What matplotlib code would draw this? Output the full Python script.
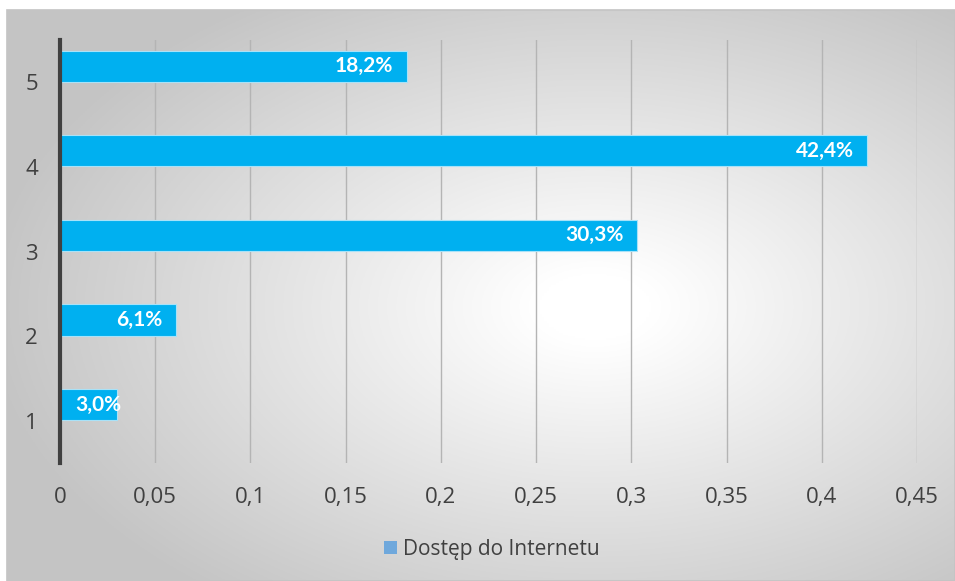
import numpy as np
import matplotlib.pyplot as plt
from matplotlib.patches import Rectangle

plt.rcParams['font.family'] = ['Open Sans', 'DejaVu Sans']

categories = ['1', '2', '3', '4', '5']
values = [0.030, 0.061, 0.303, 0.424, 0.182]
labels = ['3,0%', '6,1%', '30,3%', '42,4%', '18,2%']
xticks = [0, 0.05, 0.1, 0.15, 0.2, 0.25, 0.3, 0.35, 0.4, 0.45]
series_name = 'Dostęp do Internetu'

W, H = 955, 581
fig = plt.figure(figsize=(W / 100, H / 100), dpi=100)
fig.patch.set_facecolor('white')

# chart frame with radial gradient fill
bg = fig.add_axes([7 / W, 0, (W - 7) / W, (H - 10) / H], zorder=-5)
gx, gy = np.meshgrid(np.linspace(0, 1, 400), np.linspace(0, 1, 300))
d = np.sqrt(((gx - 0.62) / 0.75) ** 2 + ((gy - 0.52) / 0.75) ** 2)
shade = 1 - 0.23 * np.clip((d - 0.08) / 0.78, 0, 1)
bg.imshow(np.dstack([shade] * 3), extent=[0, 1, 0, 1], aspect='auto', origin='upper')
bg.set_xlim(0, 1)
bg.set_ylim(0, 1)
bg.axis('off')
fig.patches.append(Rectangle((7 / W, 0), (W - 7) / W, (H - 10) / H, transform=fig.transFigure,
                             fill=False, edgecolor='#c4c4c4', linewidth=1.2, zorder=10))

ax = fig.add_axes([60 / W, (H - 463) / H, (917 - 60) / W, 423 / H])
ax.patch.set_alpha(0)

y = np.arange(1, len(categories) + 1)
shift = 0.19  # bars sit above the category centre, like the original
ax.barh(y + shift, values, height=0.37, color='#00B0F0', edgecolor='#a8e2f8', linewidth=0.8,
        zorder=3, label=series_name)

ax.set_xlim(0, 0.45)
ax.set_ylim(0.5, 5.5)
ax.set_xticks(xticks)
ax.set_xticklabels([('%g' % t).replace('.', ',') for t in xticks])
ax.set_yticks(y)
ax.set_yticklabels(categories)
ax.tick_params(axis='both', length=0, labelsize=16, colors='#404040')
ax.tick_params(axis='x', pad=17)
ax.tick_params(axis='y', pad=16)
ax.grid(axis='x', color='#b4b4b4', linewidth=1, zorder=0)
for s in ['top', 'right', 'bottom']:
    ax.spines[s].set_visible(False)
ax.spines['left'].set_color('#404040')
ax.spines['left'].set_linewidth(3)
ax.spines['left'].set_zorder(5)

for yi, v, lab in zip(y + shift, values, labels):
    if v < 0.05:
        ax.annotate(lab, (0, yi), xytext=(11, 0), textcoords='offset points', ha='left',
                    va='center', color='white', fontsize=15, fontweight='bold',
                    family=['Lato', 'DejaVu Sans'], zorder=6)
    else:
        ax.annotate(lab, (v, yi), xytext=(-10, 0), textcoords='offset points', ha='right',
                    va='center', color='white', fontsize=15, fontweight='bold',
                    family=['Lato', 'DejaVu Sans'], zorder=6)

handle = Rectangle((0, 0), 1, 1, facecolor='#6fa8dc', edgecolor='none')
fig.legend([handle], [series_name], loc='center', bbox_to_anchor=(492 / W, 1 - 549 / H),
           frameon=False, fontsize=15, handlelength=0.6, handleheight=0.6, handletextpad=0.3,
           labelcolor='#404040')

fig.savefig('out.png', dpi=100)
